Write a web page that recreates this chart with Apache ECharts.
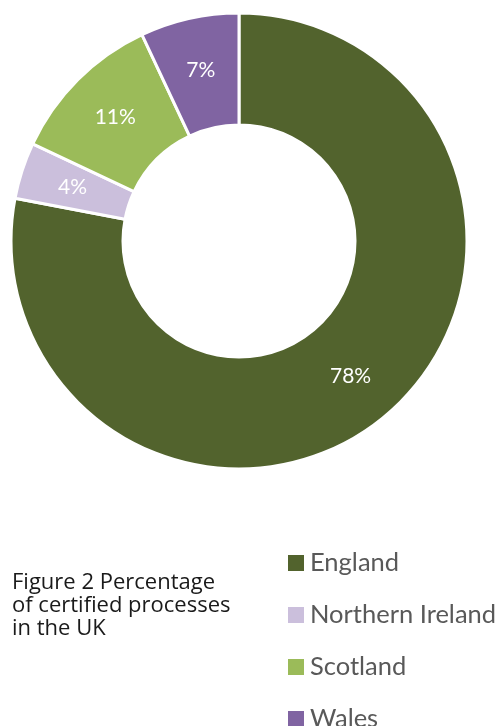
<!DOCTYPE html>
<html>
<head>
<meta charset="utf-8">
<script src="https://cdn.jsdelivr.net/npm/echarts@6/dist/echarts.min.js"></script>
<style>
html,body{margin:0;padding:0;background:#fff;}
#chart{width:499px;height:726px;}
</style>
</head>
<body>
<div id="chart"></div>
<script>
const categories = ["England", "Northern Ireland", "Scotland", "Wales"];
const values = [78, 4, 11, 7];
const colors = ["#52632d", "#cbbfdc", "#9bbb59", "#8064a2"];
const titleText = "Figure 2 Percentage\nof certified processes\nin the UK";

const legendX = 288, legendY0 = 563, legendStep = 52;
const legendGraphics = [];
categories.forEach((c, i) => {
  const cy = legendY0 + i * legendStep;
  legendGraphics.push({
    type: 'rect', left: legendX, top: cy - 8,
    shape: {width: 16, height: 16},
    style: {fill: colors[i]}
  });
  legendGraphics.push({
    type: 'text', x: legendX + 22, y: cy,
    style: {
      text: c, fill: '#595959', font: '25.5px Lato',
      textVerticalAlign: 'middle', verticalAlign: 'middle'
    }
  });
});

const chart = echarts.init(document.getElementById('chart'), null, {renderer: 'canvas'});
chart.setOption({
  backgroundColor: '#ffffff',
  animation: false,
  title: {
    text: titleText,
    left: 7,
    top: 566,
    textStyle: {
      fontFamily: 'Open Sans',
      fontSize: 22,
      fontWeight: 'normal',
      color: '#1a1a1a',
      lineHeight: 23
    }
  },
  graphic: legendGraphics,
  series: [{
    type: 'pie',
    center: [239, 241],
    radius: [116, 228],
    startAngle: 90,
    clockwise: true,
    avoidLabelOverlap: false,
    itemStyle: {borderColor: '#ffffff', borderWidth: 3},
    label: {
      show: true,
      position: 'inside',
      formatter: '{c}%',
      color: '#ffffff',
      fontFamily: 'Lato',
      fontSize: 21,
      fontWeight: 'normal'
    },
    labelLine: {show: false},
    data: categories.map((c, i) => ({name: c, value: values[i], itemStyle: {color: colors[i]}}))
  }]
});
</script>
</body>
</html>
